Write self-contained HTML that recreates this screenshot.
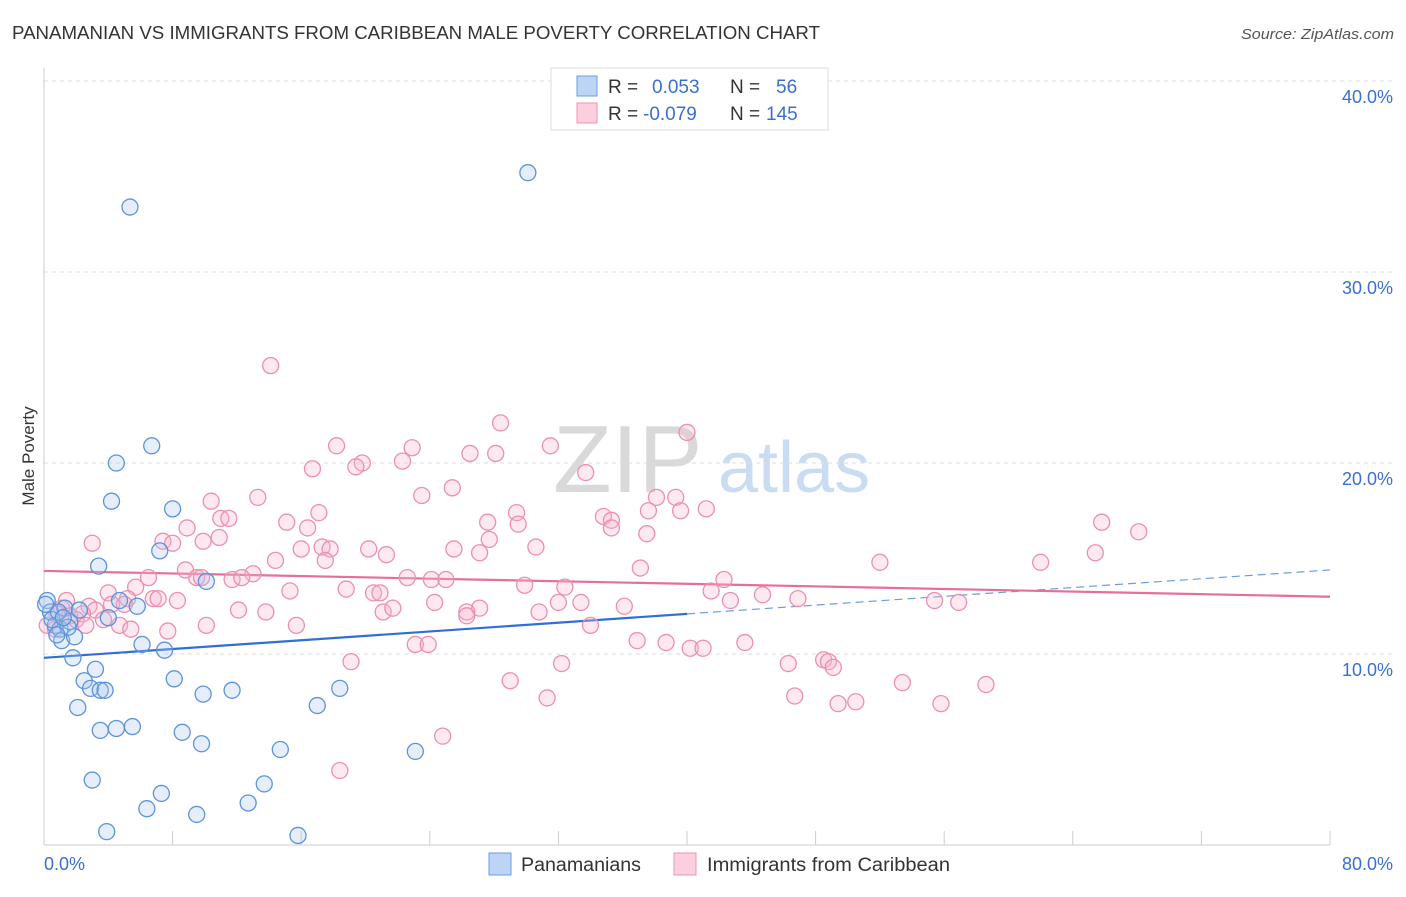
<!DOCTYPE html>
<html><head><meta charset="utf-8"><style>
body{margin:0;background:#fff;font-family:"Liberation Sans",sans-serif;}
svg text{font-family:"Liberation Sans",sans-serif;}
</style></head><body>
<svg id="chart" width="1406" height="892" viewBox="0 0 1406 892" xmlns="http://www.w3.org/2000/svg">
<text x="12" y="39" font-size="18" fill="#333" textLength="808" lengthAdjust="spacingAndGlyphs">PANAMANIAN VS IMMIGRANTS FROM CARIBBEAN MALE POVERTY CORRELATION CHART</text>
<text x="1394" y="39" font-size="15" fill="#555" text-anchor="end" font-style="italic" textLength="153" lengthAdjust="spacingAndGlyphs">Source: ZipAtlas.com</text>
<g>
<text x="553" y="492" font-size="96" fill="#d9d9d9" font-family="Liberation Serif, serif">ZIP</text>
<text x="718" y="492" font-size="72" fill="#c9dcf2">atlas</text>
</g>
<g id="grid"></g>
<g id="axes"></g>
<g id="trend"></g>
<g id="pts"></g>
<text transform="translate(34,456) rotate(-90)" font-size="17" fill="#333" text-anchor="middle">Male Poverty</text>
<g>
<rect x="551" y="68" width="277" height="62" fill="#fff" stroke="#ddd"/>
<rect x="577" y="76" width="20" height="20" fill="#bcd5f5" stroke="#6b9de0"/>
<rect x="577" y="103" width="20" height="20" fill="#fbcfdd" stroke="#ec96b5"/>
<text x="608" y="93" font-size="19" fill="#333">R =</text>
<text x="652" y="93" font-size="19" fill="#3a6fd1">0.053</text>
<text x="730" y="93" font-size="19" fill="#333">N =</text>
<text x="776" y="93" font-size="19" fill="#3a6fd1">56</text>
<text x="608" y="120" font-size="19" fill="#333">R =</text>
<text x="643" y="120" font-size="19" fill="#3a6fd1">-0.079</text>
<text x="730" y="120" font-size="19" fill="#333">N =</text>
<text x="766" y="120" font-size="19" fill="#3a6fd1">145</text>
</g>
<g>
<rect x="489" y="853" width="22" height="22" fill="#bcd5f5" stroke="#6b9de0"/>
<text x="521" y="871" font-size="19" fill="#333" textLength="120" lengthAdjust="spacingAndGlyphs">Panamanians</text>
<rect x="674" y="853" width="22" height="22" fill="#fbcfdd" stroke="#ec96b5"/>
<text x="707" y="871" font-size="19" fill="#333" textLength="243" lengthAdjust="spacingAndGlyphs">Immigrants from Caribbean</text>
</g>
</svg>
<script>
const blueX=[5.35,30.1,6.7,4.5,4.2,8.0,7.2,3.4,10.1,4.7,5.8,4.0,6.1,7.5,1.8,3.2,2.5,2.9,3.5,3.8,8.1,9.9,11.7,18.4,2.1,17.0,3.5,4.5,5.5,8.6,9.8,14.7,23.1,3.0,13.7,7.3,12.7,6.4,9.5,3.9,15.8,0.2,0.4,0.7,1.0,1.3,1.1,1.9,1.6,0.5,0.9,2.2,1.5,0.1,1.2,0.8];
const blueY=[33.4,35.2,20.9,20.0,18.0,17.6,15.4,14.6,13.8,12.8,12.5,11.9,10.5,10.2,9.8,9.2,8.6,8.2,8.1,8.1,8.7,7.9,8.1,8.2,7.2,7.3,6.0,6.1,6.2,5.9,5.3,5.0,4.9,3.4,3.2,2.7,2.2,1.9,1.6,0.7,0.5,12.8,12.2,11.5,11.3,12.4,10.7,10.9,11.7,11.8,12.2,12.3,11.4,12.6,11.9,11.0];
const pinkX=[14.1,28.4,40.0,18.2,31.5,22.9,26.5,28.1,22.3,19.8,19.4,16.7,33.7,25.4,23.5,38.1,39.3,13.3,10.4,29.4,41.2,37.6,39.6,11.0,11.5,15.1,17.1,34.8,35.3,27.6,29.5,16.4,8.9,35.3,37.5,10.9,9.9,7.4,8.0,3.0,27.7,30.6,25.5,20.2,17.3,17.8,16.0,21.3,27.1,65.8,68.1,65.4,62.0,52.0,14.4,17.5,37.1,8.8,9.5,13.0,6.5,9.8,11.7,12.3,22.6,24.1,25.0,42.3,5.7,4.0,5.2,6.8,7.1,15.3,18.8,20.5,20.9,29.9,32.4,41.5,44.7,46.9,55.4,56.9,4.2,5.0,2.8,3.2,2.4,8.3,24.3,27.1,32.0,33.4,36.1,42.7,12.1,13.8,21.1,21.7,26.3,30.8,3.7,4.7,5.4,7.7,10.1,15.7,26.3,34.0,36.9,38.7,40.2,41.0,43.6,23.1,23.9,19.1,32.2,46.3,48.5,48.8,49.1,29.0,53.4,58.6,46.7,31.3,49.4,50.5,55.8,24.8,18.4,1.1,1.6,2.0,0.7,0.2,2.6,1.4,0.8];
const pinkY=[25.1,22.1,21.6,20.9,20.9,20.8,20.5,20.5,20.1,20.0,19.8,19.7,19.5,18.7,18.3,18.2,18.2,18.2,18.0,17.4,17.6,17.5,17.5,17.1,17.1,16.9,17.4,17.2,17.0,16.9,16.8,16.6,16.6,16.6,16.3,16.1,15.9,15.9,15.8,15.8,16.0,15.6,15.5,15.5,15.6,15.5,15.5,15.2,15.3,16.9,16.4,15.3,14.8,14.8,14.9,14.9,14.5,14.4,14.0,14.2,14.0,14.0,13.9,14.0,14.0,13.9,13.9,13.9,13.5,13.2,12.9,12.9,12.9,13.3,13.4,13.2,13.2,13.6,13.5,13.3,13.1,12.9,12.8,12.7,12.6,12.6,12.5,12.3,12.1,12.8,12.7,12.4,12.7,12.7,12.5,12.8,12.3,12.2,12.2,12.4,12.2,12.2,11.8,11.5,11.3,11.2,11.5,11.5,12.0,11.5,10.7,10.6,10.3,10.3,10.6,10.5,10.5,9.6,9.5,9.5,9.7,9.6,9.3,8.6,8.5,8.4,7.8,7.7,7.4,7.5,7.4,5.7,3.9,12.4,12.0,11.8,11.3,11.5,11.5,12.8,12.1];
const yTicks=[10,20,30,40];
const yTickLabels=["10.0%","20.0%","30.0%","40.0%"];
const xTicks=[0,8,16,24,32,40,48,56,64,72,80];
const blueTrend=[9.8,0.0575];   // intercept, slope
const pinkTrend=[14.35,-0.0169];

const X0=44,X1=1330,Y0=845,YS=19.1;
const sx=v=>X0+(v/80)*(X1-X0);
const sy=v=>Y0-v*YS;
const NS="http://www.w3.org/2000/svg";
function mk(tag,attrs,parent){const e=document.createElementNS(NS,tag);for(const k in attrs)e.setAttribute(k,attrs[k]);parent.appendChild(e);return e;}
const grid=document.getElementById('grid'),axes=document.getElementById('axes'),trend=document.getElementById('trend'),pts=document.getElementById('pts');
yTicks.forEach((t,i)=>{
  const l=mk('line',{x1:X0,x2:1394,y1:sy(t),y2:sy(t),stroke:'#ddd','stroke-dasharray':'4 4'},grid);
  
  
  const tx=mk('text',{x:1393,y:sy(t)+22,'font-size':18,fill:'#3a6fd1','text-anchor':'end'},axes);
  tx.textContent=yTickLabels[i];
  
  
});
const ax=mk('line',{x1:X0,x2:X1,y1:Y0,y2:Y0,stroke:'#ccc'},axes);


const ay=mk('line',{x1:X0,x2:X0,y1:68,y2:Y0,stroke:'#ccc'},axes);


xTicks.forEach(t=>{
  const l=mk('line',{x1:sx(t),x2:sx(t),y1:Y0,y2:Y0-14,stroke:'#ccc'},axes);
  
  
});
const xl0=mk('text',{x:44,y:870,'font-size':18,fill:'#3a6fd1'},axes);xl0.textContent="0.0%";


const xl1=mk('text',{x:1393,y:870,'font-size':18,fill:'#3a6fd1','text-anchor':'end'},axes);xl1.textContent="80.0%";



function drawPts(xs,ys,fill,stroke,name){
  xs.forEach((x,i)=>{
    const c=mk('circle',{cx:sx(x),cy:sy(ys[i]),r:8,fill:fill,'fill-opacity':0.3,stroke:stroke,'stroke-width':1.3},pts);
    
    
  });
}
drawPts(pinkX,pinkY,'#f7b6cb','#ec8fb0','point-caribbean');
drawPts(blueX,blueY,'#a9c8f0','#5b93dd','point-panamanian');
const b1=mk('line',{x1:sx(0),y1:sy(blueTrend[0]),x2:sx(40),y2:sy(blueTrend[0]+blueTrend[1]*40),stroke:'#2f6fd6','stroke-width':2.2},trend);


const b2=mk('line',{x1:sx(40),y1:sy(blueTrend[0]+blueTrend[1]*40),x2:sx(80),y2:sy(blueTrend[0]+blueTrend[1]*80),stroke:'#6b9de0','stroke-width':1.2,'stroke-dasharray':'8 5'},trend);


const p1=mk('line',{x1:sx(0),y1:sy(pinkTrend[0]),x2:sx(80),y2:sy(pinkTrend[0]+pinkTrend[1]*80),stroke:'#e56f9a','stroke-width':2.2},trend);


</script>
</body></html>
